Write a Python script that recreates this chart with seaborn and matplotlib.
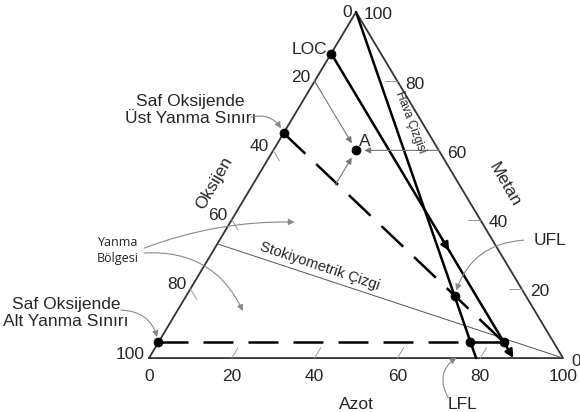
import numpy as np
import pandas as pd
import seaborn as sns
import matplotlib.pyplot as plt

# compositions in % as (metan, oksijen, azot)
tick_vals = [0, 20, 40, 60, 80, 100]
fuel = (100, 0, 0)
oxygen = (0, 100, 0)
nitrogen = (0, 0, 100)
air = (0, 21, 79)
stoich = (33, 67, 0)
loc_pt = (88, 12, 0)
loc_end = (0, 12, 88)
loc_mid = (31, 12, 57)
ufl_o2 = (65, 35, 0)
lfl_o2 = (4.5, 95.5, 0)
ufl_air = (18, 17.2, 64.8)
lfl_air = (4.5, 20.1, 75.4)
nose = (4.5, 12, 83.5)
point_a = (60, 20, 20)
a_from_o = (80, 20, 0)
a_from_m = (60, 0, 40)
a_from_n = (50, 30, 20)

H = np.sqrt(3) / 2


def xy(p):
    m, o, n = p
    return n + m / 2, m * H


def seg(points):
    pts = [xy(p) for p in points]
    return pd.DataFrame(pts, columns=["x", "y"])


sns.set_style("white")
plt.rcParams['font.family'] = ['Liberation Sans', 'DejaVu Sans']

fig = plt.figure(figsize=(5.8, 4.12), dpi=100)
ax = fig.add_axes([0, 0, 1, 1])
ax.set_xlim(-36.0, 104.1)
ax.set_ylim(-13.5, 89.6)
ax.axis("off")

# triangle
tri = seg([oxygen, nitrogen, fuel, oxygen])
sns.lineplot(data=tri, x="x", y="y", ax=ax, color="#333333", lw=1.3,
             sort=False, estimator=None)

# stoichiometric line
sns.lineplot(data=seg([stoich, nitrogen]), x="x", y="y", ax=ax, color="#555555",
             lw=0.7, sort=False, estimator=None)

# air line
sns.lineplot(data=seg([fuel, air]), x="x", y="y", ax=ax, color="black",
             lw=1.8, sort=False, estimator=None)

# LOC line with arrows
ax.annotate("", xy=xy(loc_end), xytext=xy(loc_pt),
            arrowprops=dict(arrowstyle="-|>", color="black", lw=1.8,
                            shrinkA=0, shrinkB=0, mutation_scale=12))
ax.annotate("", xy=xy(loc_mid), xytext=xy((34, 12, 54)),
            arrowprops=dict(arrowstyle="-|>", color="black", lw=1.8,
                            shrinkA=0, shrinkB=0, mutation_scale=12))

# flammability boundary
dash = (0, (12, 6))
sns.lineplot(data=seg([ufl_o2, nose]), x="x", y="y", ax=ax, color="black",
             lw=1.8, sort=False, estimator=None, linestyle=dash)
sns.lineplot(data=seg([lfl_o2, lfl_air]), x="x", y="y", ax=ax, color="black",
             lw=1.8, sort=False, estimator=None, linestyle=dash)
sns.lineplot(data=seg([lfl_air, nose]), x="x", y="y", ax=ax, color="black",
             lw=1.8, sort=False, estimator=None)

# dots
dots = seg([loc_pt, ufl_o2, lfl_o2, ufl_air, lfl_air, nose, point_a])
sns.scatterplot(data=dots, x="x", y="y", ax=ax, color="black", s=42,
                edgecolor="black", zorder=5)

# ticks and tick labels
tfs = 12.5
for v in tick_vals:
    # azot (bottom)
    px, py = xy((0, 100 - v, v))
    ax.annotate(str(v), xy=(px, py), xytext=(0, -11), textcoords="offset pixels",
                ha="center", va="top", fontsize=tfs)
    # oksijen (left)
    px, py = xy((100 - v, v, 0))
    ax.annotate(str(v), xy=(px, py), xytext=(-4, 4 if v else -1),
                textcoords="offset pixels", ha="right", va="center", fontsize=tfs)
    # metan (right)
    px, py = xy((v, 0, 100 - v))
    ax.annotate(str(v), xy=(px, py), xytext=(8, -3), textcoords="offset pixels",
                ha="left", va="center", fontsize=tfs)
    if 0 < v < 100:
        sns.lineplot(data=seg([(0, 100 - v, v), (3, 97 - v, v)]), x="x", y="y",
                     ax=ax, color="#999999", lw=0.7, sort=False, estimator=None)
        sns.lineplot(data=seg([(100 - v, v, 0), (97 - v, v, 3)]), x="x", y="y",
                     ax=ax, color="#999999", lw=0.7, sort=False, estimator=None)
        sns.lineplot(data=seg([(v, 0, 100 - v), (v, 3, 97 - v)]), x="x", y="y",
                     ax=ax, color="#999999", lw=0.7, sort=False, estimator=None)

# axis titles
ax.text(50, -11.6, "Azot", ha="center", va="center", fontsize=12.5)
ax.text(15.8, 43.8, "Oksijen", ha="center", va="center", fontsize=12.5, rotation=60)
ax.text(86, 43.3, "Metan", ha="center", va="center", fontsize=12.5, rotation=-60)

# point labels
ax.annotate("LOC", xy=xy(loc_pt), xytext=(-4, 4), textcoords="offset pixels",
            ha="right", va="center", fontsize=12.5)
ax.annotate("A", xy=xy(point_a), xytext=(3, 9), textcoords="offset pixels",
            ha="left", va="center", fontsize=12.5)

# gray reading lines to A
for src in (a_from_o, a_from_m, a_from_n):
    ax.annotate("", xy=xy(point_a), xytext=xy(src),
                arrowprops=dict(arrowstyle="-|>", color="#777777", lw=0.8,
                                shrinkA=0, shrinkB=6, mutation_scale=9))

# descriptive labels
gray = dict(arrowstyle="-|>", color="#888888", lw=0.8, shrinkA=0, shrinkB=4,
            mutation_scale=9)
ax.text(10.0, 62.1, "Saf Oksijende\nÜst Yanma Sınırı", ha="center", va="center",
        fontsize=12.5, linespacing=1.15)
ax.annotate("", xy=xy(ufl_o2), xytext=(24.6, 60.3),
            arrowprops=dict(gray, connectionstyle="arc3,rad=-0.4"))
ax.text(-20, 11.3, "Saf Oksijende\nAlt Yanma Sınırı", ha="center", va="center",
        fontsize=12.5, linespacing=1.15)
ax.annotate("", xy=xy(lfl_o2), xytext=(-6.8, 12.0),
            arrowprops=dict(gray, connectionstyle="arc3,rad=-0.4"))

ax.text(-7.5, 26.8, "Yanma\nBölgesi", ha="center", va="center", fontsize=9,
        family=["Open Sans", "DejaVu Sans"], linespacing=1.3)
ax.annotate("", xy=(36.5, 34), xytext=(-1.2, 27.5),
            arrowprops=dict(gray, connectionstyle="arc3,rad=-0.1"))
ax.annotate("", xy=(23.2, 10.5), xytext=(-1.2, 26.3),
            arrowprops=dict(gray, connectionstyle="arc3,rad=-0.35"))

ax.text(96.8, 29.5, "UFL", ha="center", va="center", fontsize=12.5)
ax.annotate("", xy=xy(ufl_air), xytext=(90.5, 29.5),
            arrowprops=dict(gray, connectionstyle="arc3,rad=0.35"))
ax.text(75.6, -11.6, "LFL", ha="center", va="center", fontsize=12.5)
ax.annotate("", xy=(75.4, 0.8), xytext=(72.3, -10.0),
            arrowprops=dict(gray, connectionstyle="arc3,rad=-0.5"))

ax.text(63.0, 59.0, "Hava Çizgisi", ha="center", va="center", fontsize=8.5,
        rotation=-69)
ax.text(41.2, 23.0, "Stokiyometrik Çizgi", ha="center", va="center",
        fontsize=10.5, rotation=-18.5)

fig.savefig("out.png", dpi=100)
